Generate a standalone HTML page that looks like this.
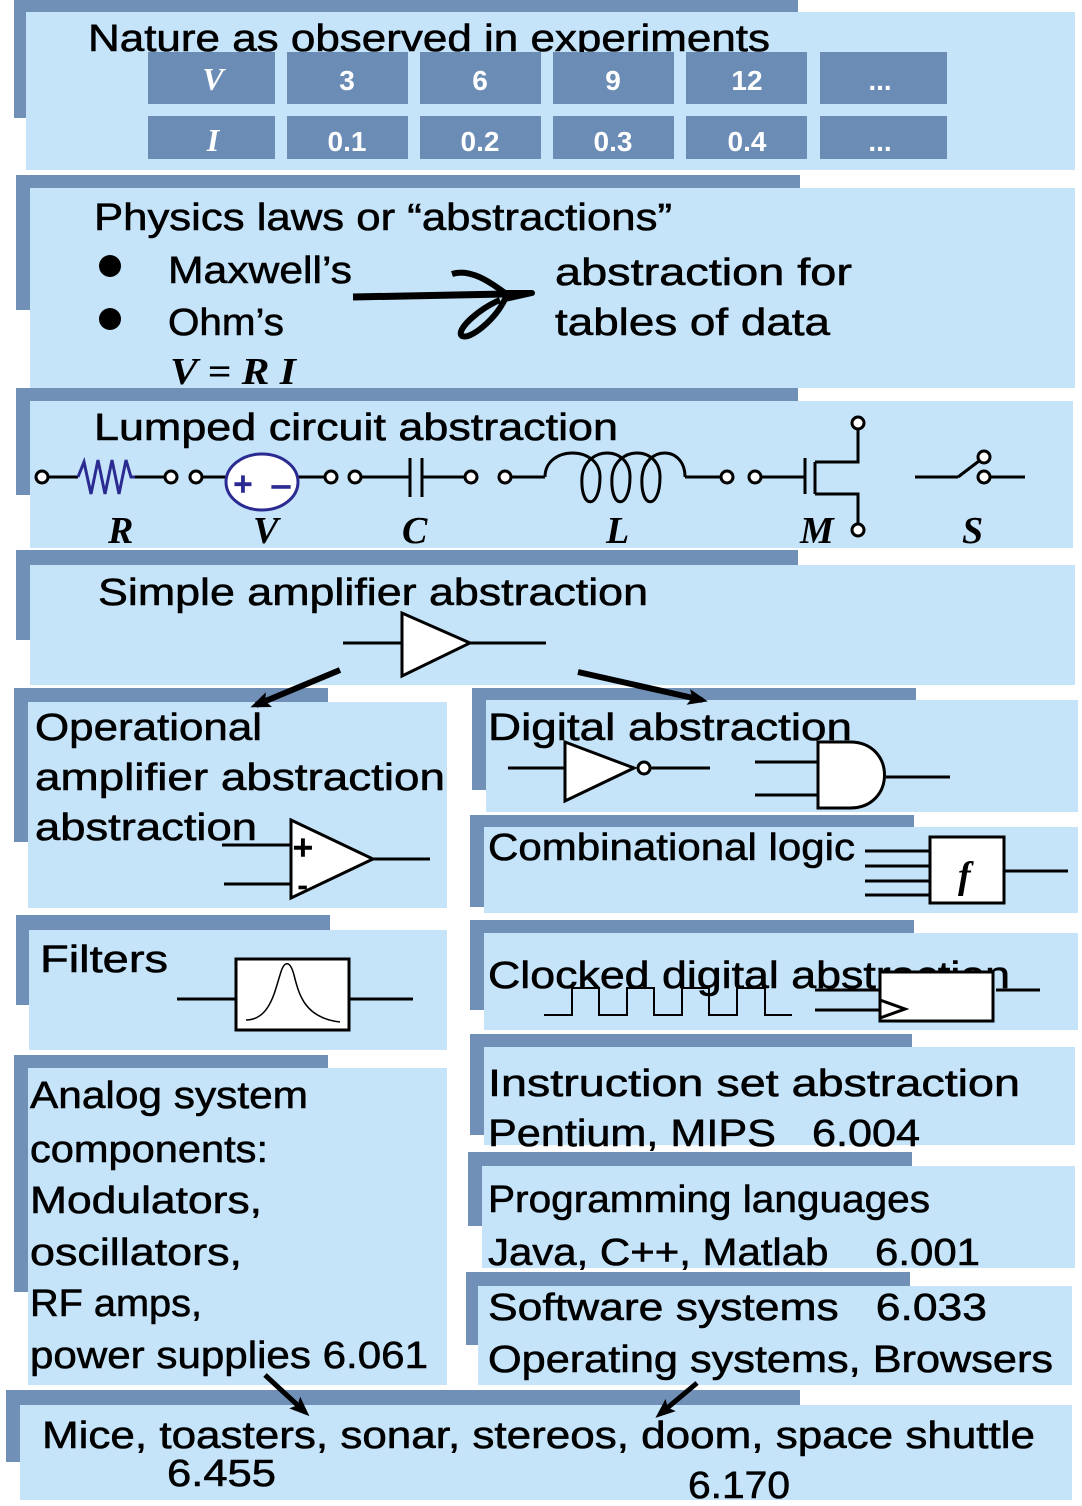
<!DOCTYPE html>
<html><head><meta charset="utf-8"><style>
html,body{margin:0;padding:0;background:#fff;width:1082px;height:1506px;overflow:hidden}
svg{display:block}
text{font-family:"Liberation Sans","DejaVu Sans",sans-serif;font-size:38px;fill:#000;stroke:#000;stroke-width:0.6}
.s{font-family:"Liberation Serif",serif;font-style:italic;font-weight:bold;stroke:none}
.t{fill:#fff;stroke:none;font-weight:bold;font-size:28px;text-anchor:middle}
.ts{fill:#fff;stroke:none;font-family:"Liberation Serif",serif;font-style:italic;font-weight:bold;font-size:32px;text-anchor:middle}
</style></head><body>
<svg width="1082" height="1506" viewBox="0 0 1082 1506" xmlns="http://www.w3.org/2000/svg">
<defs>
<marker id="ah" markerWidth="20" markerHeight="16" refX="14" refY="8" orient="auto" markerUnits="userSpaceOnUse"><path d="M0,0 L20,8 L0,16 L4,8 z" fill="#000"/></marker>
</defs>
<g fill="#7090b8">
<rect x="14" y="0" width="784" height="14"/><rect x="14" y="0" width="12" height="118"/>
<rect x="16" y="175" width="784" height="14"/><rect x="16" y="175" width="14" height="135"/>
<rect x="16" y="388" width="782" height="13"/><rect x="16" y="388" width="14" height="107"/>
<rect x="16" y="550" width="782" height="15"/><rect x="16" y="550" width="14" height="90"/>
<rect x="14" y="688" width="314" height="14"/><rect x="14" y="688" width="14" height="154"/>
<rect x="472" y="688" width="444" height="12"/><rect x="472" y="688" width="14" height="102"/>
<rect x="470" y="815" width="444" height="12"/><rect x="470" y="815" width="14" height="92"/>
<rect x="16" y="915" width="314" height="15"/><rect x="16" y="915" width="13" height="90"/>
<rect x="470" y="920" width="444" height="13"/><rect x="470" y="920" width="14" height="90"/>
<rect x="14" y="1055" width="314" height="13"/><rect x="14" y="1055" width="14" height="237"/>
<rect x="470" y="1034" width="442" height="13"/><rect x="470" y="1034" width="14" height="101"/>
<rect x="468" y="1152" width="444" height="14"/><rect x="468" y="1152" width="14" height="74"/>
<rect x="466" y="1272" width="444" height="14"/><rect x="466" y="1272" width="12" height="73"/>
<rect x="6" y="1390" width="794" height="15"/><rect x="6" y="1390" width="14" height="72"/>
</g>
<g fill="#c5e4fa">
<rect x="26" y="12" width="1049" height="158"/>
<rect x="30" y="188" width="1045" height="200"/>
<rect x="30" y="401" width="1043" height="147"/>
<rect x="30" y="565" width="1045" height="120"/>
<rect x="28" y="702" width="419" height="206"/>
<rect x="486" y="700" width="592" height="112"/>
<rect x="484" y="827" width="594" height="86"/>
<rect x="29" y="930" width="418" height="120"/>
<rect x="484" y="933" width="594" height="97"/>
<rect x="28" y="1068" width="419" height="317"/>
<rect x="484" y="1047" width="591" height="98"/>
<rect x="482" y="1166" width="593" height="102"/>
<rect x="478" y="1286" width="594" height="99"/>
<rect x="20" y="1405" width="1052" height="95"/>
</g>

<text x="88" y="51" textLength="682" lengthAdjust="spacingAndGlyphs">Nature as observed in experiments</text>
<g fill="#6b8cb5">
<rect x="148" y="52" width="127" height="52"/><rect x="287" y="52" width="121" height="52"/><rect x="420" y="52" width="121" height="52"/><rect x="553" y="52" width="121" height="52"/><rect x="686" y="52" width="121" height="52"/><rect x="820" y="52" width="127" height="52"/>
<rect x="148" y="116" width="127" height="43"/><rect x="287" y="116" width="121" height="43"/><rect x="420" y="116" width="121" height="43"/><rect x="553" y="116" width="121" height="43"/><rect x="686" y="116" width="121" height="43"/><rect x="820" y="116" width="127" height="43"/>
</g>
<text class="ts" x="213" y="90">V</text><text class="t" x="347" y="90">3</text><text class="t" x="480" y="90">6</text><text class="t" x="613" y="90">9</text><text class="t" x="747" y="90">12</text><text class="t" x="880" y="90">...</text>
<text class="ts" x="213" y="151">I</text><text class="t" x="347" y="151">0.1</text><text class="t" x="480" y="151">0.2</text><text class="t" x="613" y="151">0.3</text><text class="t" x="747" y="151">0.4</text><text class="t" x="880" y="151">...</text>

<text x="94" y="230" textLength="578" lengthAdjust="spacingAndGlyphs">Physics laws or “abstractions”</text>
<circle cx="110" cy="266" r="11"/><circle cx="110" cy="319" r="11"/>
<text x="168" y="283" textLength="184" lengthAdjust="spacingAndGlyphs">Maxwell’s</text>
<text x="168" y="335" textLength="116" lengthAdjust="spacingAndGlyphs">Ohm’s</text>
<text class="s" x="170" y="384" textLength="126" lengthAdjust="spacingAndGlyphs">V = R I</text>
<path d="M353,297 L505,294" stroke="#000" stroke-width="7" fill="none"/>
<path d="M452,274 C470,268 490,282 505,293 L532,293 L505,299 C495,320 470,340 462,336 C455,330 480,308 500,300" stroke="#000" stroke-width="6" fill="none" stroke-linejoin="round"/>
<text x="555" y="285" textLength="297" lengthAdjust="spacingAndGlyphs">abstraction for</text>
<text x="555" y="335" textLength="275" lengthAdjust="spacingAndGlyphs">tables of data</text>

<text x="94" y="440" textLength="524" lengthAdjust="spacingAndGlyphs">Lumped circuit abstraction</text>
<g stroke="#000" stroke-width="3" fill="#fff">
<line x1="48" y1="477" x2="78" y2="477"/><line x1="135" y1="477" x2="165" y2="477"/>
<line x1="202" y1="477" x2="226" y2="477"/><line x1="298" y1="477" x2="325" y2="477"/>
<line x1="361" y1="477" x2="410" y2="477"/><line x1="422" y1="477" x2="465" y2="477"/>
<line x1="410" y1="458" x2="410" y2="497"/><line x1="422" y1="458" x2="422" y2="497"/>
<line x1="511" y1="477" x2="545" y2="477"/><line x1="685" y1="477" x2="721" y2="477"/>
<path d="M545,477 C545,445 600,445 600,477 C600,510 580,510 582,477 C585,445 630,445 630,477 C630,510 610,510 612,477 C615,445 660,445 660,477 C660,510 640,510 642,477 C645,445 685,445 685,477" fill="none"/>
<line x1="761" y1="477" x2="805" y2="477"/><line x1="805" y1="458" x2="805" y2="494"/><line x1="815" y1="462" x2="815" y2="494"/>
<polyline points="815,462 858,462 858,429" fill="none"/><polyline points="815,494 858,494 858,524" fill="none"/>
<line x1="915" y1="477" x2="958" y2="477"/><line x1="958" y1="477" x2="979" y2="461"/><line x1="990" y1="477" x2="1025" y2="477"/>
<circle cx="42" cy="477" r="6"/><circle cx="171" cy="477" r="6"/><circle cx="196" cy="477" r="6"/><circle cx="331" cy="477" r="6"/><circle cx="355" cy="477" r="6"/><circle cx="471" cy="477" r="6"/><circle cx="505" cy="477" r="6"/><circle cx="727" cy="477" r="6"/><circle cx="755" cy="477" r="6"/><circle cx="858" cy="423" r="6"/><circle cx="858" cy="530" r="6"/><circle cx="984" cy="457" r="6"/><circle cx="984" cy="477" r="6"/>
</g>
<polyline points="78,477 84,462 91,494 98,460 105,494 112,460 119,494 126,460 131,477 135,477" stroke="#2a2a90" stroke-width="3" fill="none"/>
<ellipse cx="262" cy="482" rx="36" ry="28" stroke="#2a2a90" stroke-width="3" fill="#fff"/>
<text x="243" y="495" style="fill:#2a2a90;stroke:#2a2a90;font-size:32px;stroke-width:1.5" text-anchor="middle">+</text>
<text x="281" y="495" style="fill:#2a2a90;stroke:#2a2a90;font-size:32px;stroke-width:1.5" text-anchor="middle">–</text>
<text class="s" x="108" y="543">R</text><text class="s" x="253" y="543">V</text><text class="s" x="402" y="543">C</text><text class="s" x="606" y="543">L</text><text class="s" x="800" y="543">M</text><text class="s" x="962" y="543">S</text>

<text x="98" y="605" textLength="550" lengthAdjust="spacingAndGlyphs">Simple amplifier abstraction</text>
<g stroke="#000" stroke-width="3" fill="#fff">
<line x1="343" y1="643" x2="402" y2="643"/><line x1="470" y1="643" x2="546" y2="643"/>
<polygon points="402,613 402,676 470,643"/>
</g>
<line x1="340" y1="670" x2="256" y2="705" stroke="#000" stroke-width="6" marker-end="url(#ah)"/>
<line x1="578" y1="672" x2="702" y2="700" stroke="#000" stroke-width="6" marker-end="url(#ah)"/>

<text x="35" y="740" textLength="227" lengthAdjust="spacingAndGlyphs">Operational</text>
<text x="35" y="790" textLength="410" lengthAdjust="spacingAndGlyphs">amplifier abstraction</text>
<text x="35" y="840" textLength="222" lengthAdjust="spacingAndGlyphs">abstraction</text>
<g stroke="#000" stroke-width="3" fill="#fff">
<line x1="222" y1="845" x2="291" y2="845"/><line x1="224" y1="884" x2="291" y2="884"/><line x1="373" y1="859" x2="430" y2="859"/>
<polygon points="291,820 291,898 373,859"/>
</g>
<text x="293" y="859" style="font-size:34px;stroke-width:1.5">+</text><text x="298" y="895" style="font-size:28px;stroke-width:1.5">-</text>

<text x="488" y="740" textLength="364" lengthAdjust="spacingAndGlyphs">Digital abstraction</text>
<g stroke="#000" stroke-width="3" fill="#fff">
<line x1="508" y1="768" x2="565" y2="768"/><line x1="651" y1="768" x2="710" y2="768"/>
<polygon points="565,742 565,801 634,768"/><circle cx="644" cy="768" r="6"/>
<line x1="755" y1="762" x2="818" y2="762"/><line x1="755" y1="795" x2="818" y2="795"/><line x1="886" y1="777" x2="950" y2="777"/>
<path d="M818,742 L850,742 C896,742 896,808 850,808 L818,808 Z"/>
</g>

<text x="488" y="860" textLength="367" lengthAdjust="spacingAndGlyphs">Combinational logic</text>
<g stroke="#000" stroke-width="3" fill="#fff">
<line x1="865" y1="851" x2="930" y2="851"/><line x1="865" y1="866" x2="930" y2="866"/><line x1="865" y1="881" x2="930" y2="881"/><line x1="865" y1="895" x2="930" y2="895"/><line x1="1004" y1="871" x2="1068" y2="871"/>
<rect x="930" y="837" width="74" height="66"/>
</g>
<text class="s" x="958" y="888">f</text>

<text x="40" y="972" textLength="128" lengthAdjust="spacingAndGlyphs">Filters</text>
<g stroke="#000" stroke-width="3" fill="#fff">
<line x1="177" y1="999" x2="236" y2="999"/><line x1="349" y1="999" x2="413" y2="999"/>
<rect x="236" y="959" width="113" height="71"/>
</g>
<path d="M246,1020 C270,1020 275,990 280,975 C284,960 290,960 294,975 C299,995 305,1018 340,1022" stroke="#000" stroke-width="1.5" fill="none"/>

<text x="488" y="988" textLength="522" lengthAdjust="spacingAndGlyphs">Clocked digital abstraction</text>
<polyline points="544,1015 572,1015 572,988 599,988 599,1015 627,1015 627,988 654,988 654,1015 682,1015 682,988 709,988 709,1015 737,1015 737,988 765,988 765,1015 792,1015" stroke="#000" stroke-width="2" fill="none"/>
<g stroke="#000" stroke-width="3" fill="#fff">
<line x1="815" y1="990" x2="883" y2="990"/><line x1="815" y1="1010" x2="883" y2="1010"/><line x1="996" y1="990" x2="1040" y2="990"/>
<rect x="880" y="972" width="113" height="49"/>
<polyline points="880,1000 905,1009 880,1018" fill="none"/>
</g>

<text x="488" y="1096" textLength="532" lengthAdjust="spacingAndGlyphs">Instruction set abstraction</text>
<text x="488" y="1146" textLength="432" lengthAdjust="spacingAndGlyphs" xml:space="preserve">Pentium, MIPS   6.004</text>
<text x="488" y="1212" textLength="442" lengthAdjust="spacingAndGlyphs">Programming languages</text>
<text x="488" y="1265" textLength="492" lengthAdjust="spacingAndGlyphs" xml:space="preserve">Java, C++, Matlab    6.001</text>
<text x="488" y="1320" textLength="499" lengthAdjust="spacingAndGlyphs" xml:space="preserve">Software systems   6.033</text>
<text x="488" y="1372" textLength="565" lengthAdjust="spacingAndGlyphs">Operating systems, Browsers</text>

<text x="30" y="1108" textLength="278" lengthAdjust="spacingAndGlyphs">Analog system</text>
<text x="30" y="1162" textLength="238" lengthAdjust="spacingAndGlyphs">components:</text>
<text x="30" y="1213" textLength="232" lengthAdjust="spacingAndGlyphs">Modulators,</text>
<text x="30" y="1265" textLength="212" lengthAdjust="spacingAndGlyphs">oscillators,</text>
<text x="30" y="1316" textLength="172" lengthAdjust="spacingAndGlyphs">RF amps,</text>
<text x="30" y="1368" textLength="398" lengthAdjust="spacingAndGlyphs">power supplies 6.061</text>

<text x="42" y="1448" textLength="993" lengthAdjust="spacingAndGlyphs">Mice, toasters, sonar, stereos, doom, space shuttle</text>
<text x="167" y="1486" textLength="109" lengthAdjust="spacingAndGlyphs">6.455</text>
<text x="688" y="1498" textLength="102" lengthAdjust="spacingAndGlyphs">6.170</text>
<line x1="265" y1="1375" x2="305" y2="1412" stroke="#000" stroke-width="5" marker-end="url(#ah)"/>
<line x1="697" y1="1383" x2="660" y2="1414" stroke="#000" stroke-width="5" marker-end="url(#ah)"/>
</svg>
</body></html>
